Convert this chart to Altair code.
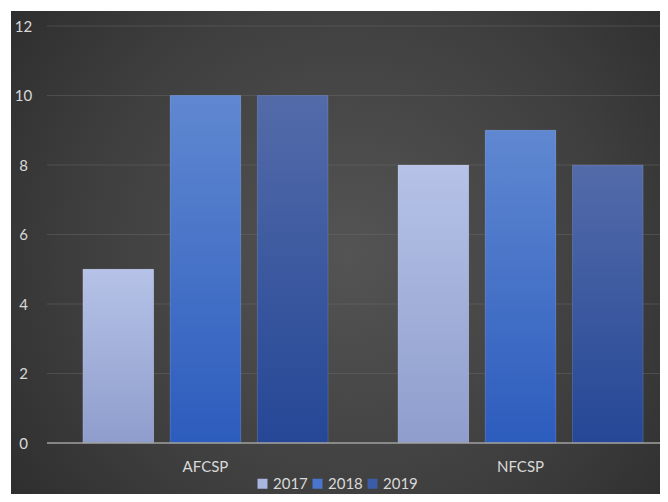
import altair as alt
import pandas as pd

categories = ["AFCSP", "NFCSP"]
years = ["2017", "2018", "2019"]
values_2017 = [5, 8]
values_2018 = [10, 9]
values_2019 = [10, 8]
y_ticks = [0, 2, 4, 6, 8, 10, 12]

rows = []
for i, c in enumerate(categories):
    for y, vals in zip(years, [values_2017, values_2018, values_2019]):
        rows.append({"cat": c, "year": y, "value": vals[i]})
df = pd.DataFrame(rows)

W, H = 613, 417
FONT = "Lato"
LABEL = "#d9d9d9"

solid = ["#a9b6e0", "#4a76cf", "#3b5ca8"]
grads = {
    "2017": ["#b6c2e7", "#8e9dcc"],
    "2018": ["#6088d1", "#2c5cbd"],
    "2019": ["#536ba9", "#254796"],
}

yscale = alt.Scale(domain=[0, 12])
yaxis = alt.Axis(title=None, values=y_ticks, domain=False, ticks=False,
                 grid=False, zindex=2,
                 labelColor=LABEL, labelFont=FONT, labelFontSize=15,
                 labelAlign="center", labelPadding=24)

xenc = alt.X("cat:N", sort=categories,
             scale=alt.Scale(range=[0, 632], paddingInner=0.222, paddingOuter=0.114),
             axis=alt.Axis(title=None, labelAngle=0, domain=False, ticks=False,
                           grid=False, zindex=2,
                           labelColor=LABEL, labelFont=FONT, labelFontSize=15,
                           labelPadding=16))
xoff = alt.XOffset("year:N", sort=years,
                   scale=alt.Scale(domain=years, paddingInner=0.19, paddingOuter=0))
yenc = alt.Y("value:Q", scale=yscale, axis=yaxis)

bg = alt.Chart(pd.DataFrame({"a": [0]})).mark_rect(
    fill=alt.Gradient(gradient="radial",
                      stops=[alt.GradientStop(color="#545454", offset=0),
                             alt.GradientStop(color="#3e3e3e", offset=0.55),
                             alt.GradientStop(color="#272727", offset=1)],
                      x1=0.52, y1=0.5, r1=0, x2=0.52, y2=0.5, r2=0.75)
).encode(x=alt.value(-36), x2=alt.value(W), y=alt.value(-15), y2=alt.value(468))

grid = alt.Chart(pd.DataFrame({"value": y_ticks[1:]})).mark_rule(
    color="#6a6a6a", opacity=0.45, strokeWidth=1
).encode(y=yenc, x=alt.value(0), x2=alt.value(W))

base_solid = alt.Chart(df).mark_bar().encode(
    x=xenc, xOffset=xoff, y=yenc,
    color=alt.Color("year:N", sort=years,
                    scale=alt.Scale(domain=years, range=solid),
                    legend=alt.Legend(title=None, orient="none", direction="horizontal",
                                      legendX=208, legendY=450,
                                      symbolType="square", symbolSize=100,
                                      symbolStrokeWidth=0, labelColor=LABEL,
                                      labelFont=FONT, labelFontSize=15,
                                      labelOffset=3, columnPadding=2)))

layers = [bg, grid, base_solid]
for y in years:
    top, bot = grads[y]
    layers.append(
        alt.Chart(df).transform_filter(alt.datum.year == y).mark_bar(
            fill=alt.Gradient(gradient="linear",
                              stops=[alt.GradientStop(color=top, offset=0),
                                     alt.GradientStop(color=bot, offset=1)],
                              x1=0, y1=0, x2=0, y2=1),
            stroke="#ffffff", strokeOpacity=0.12, strokeWidth=1
        ).encode(x=xenc, xOffset=xoff, y=yenc)
    )

axis_line = alt.Chart(pd.DataFrame({"value": [0]})).mark_rule(
    color="#a0a0a0", strokeWidth=1.5
).encode(y=yenc, x=alt.value(0), x2=alt.value(W))
layers.append(axis_line)

chart = alt.layer(*layers).properties(
    width=W, height=H,
    autosize=alt.AutoSizeParams(type="none"),
    padding={"left": 39, "top": 18, "right": 0, "bottom": 51},
    background="white",
).configure_view(stroke=None)

chart.save("out.html", embed_options={"renderer": "svg", "actions": False})
